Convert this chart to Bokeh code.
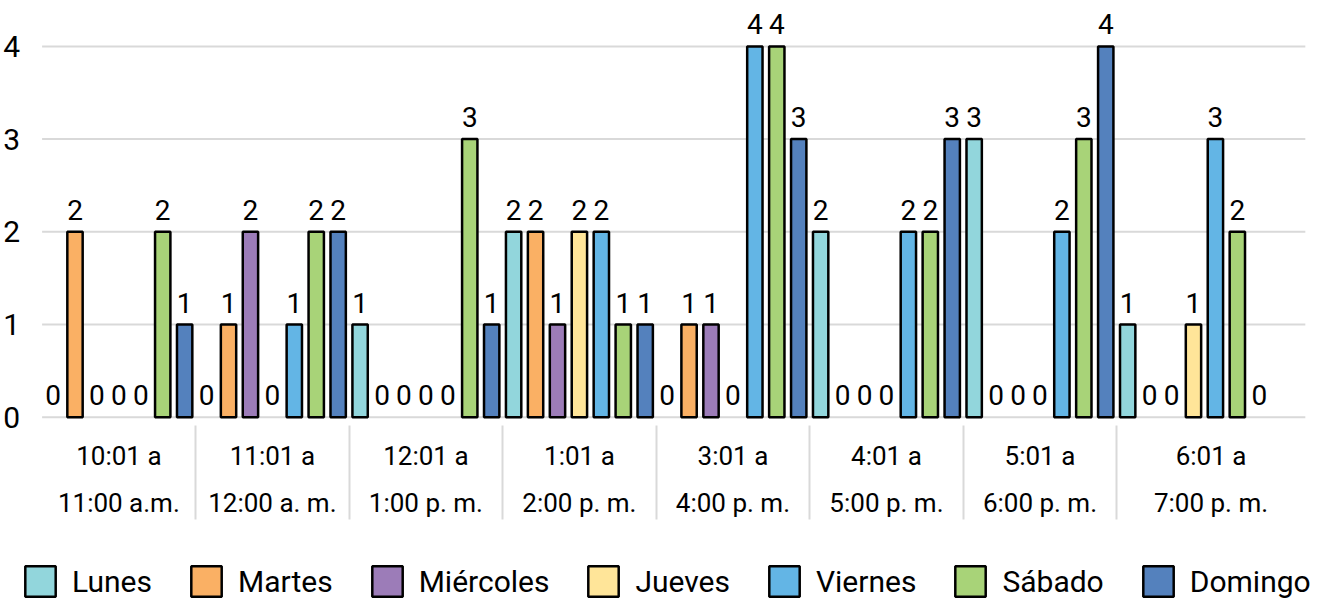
from bokeh.plotting import figure
from bokeh.models import (Range1d, LinearAxis, FixedTicker, Legend, LegendItem,
                          LabelSet, ColumnDataSource)
from bokeh.core.properties import value
from bokeh.embed import file_html
from bokeh.resources import INLINE

# ---- data ----
cat_line1 = ["10:01 a", "11:01 a", "12:01 a", "1:01 a", "3:01 a", "4:01 a", "5:01 a", "6:01 a"]
cat_line2 = ["11:00 a.m.", "12:00 a. m.", "1:00 p. m.", "2:00 p. m.",
             "4:00 p. m.", "5:00 p. m.", "6:00 p. m.", "7:00 p. m."]
days = ["Lunes", "Martes", "Miércoles", "Jueves", "Viernes", "Sábado", "Domingo"]
lunes = [0, 0, 1, 2, 0, 2, 3, 1]
martes = [2, 1, 0, 2, 1, 0, 0, 0]
miercoles = [0, 2, 0, 1, 1, 0, 0, 0]
jueves = [0, 0, 0, 2, 0, 0, 0, 1]
viernes = [0, 1, 0, 2, 4, 2, 2, 3]
sabado = [2, 2, 3, 1, 4, 2, 3, 2]
domingo = [1, 2, 1, 1, 3, 3, 4, 0]
y_ticks = [0, 1, 2, 3, 4]

# ---- style ----
series = [lunes, martes, miercoles, jueves, viernes, sabado, domingo]
colors = ["#92D6DC", "#FAB064", "#9C7CB8", "#FFE599", "#63B5E5", "#A8D378", "#5481BD"]
FONT = "Roboto"
GRID = "#D9D9D9"
n_days = len(days)
n_cats = len(cat_line1)
X_END = 57.6   # right end of the category axis (slot units)

p = figure(width=1325, height=605,
           x_range=Range1d(-1.897, 58.52), y_range=Range1d(-2.031, 4.495),
           x_axis_type=None, y_axis_type=None,
           output_backend="svg", toolbar_location=None,
           min_border_left=0, min_border_right=0,
           min_border_top=0, min_border_bottom=0)
p.outline_line_color = None
p.background_fill_color = "white"

# horizontal grid lines across the category axis
p.segment(x0=[0] * len(y_ticks), x1=[X_END] * len(y_ticks), y0=y_ticks, y1=y_ticks,
          line_color=GRID, line_width=2, level="underlay")

# y axis
yax = LinearAxis(ticker=FixedTicker(ticks=y_ticks), fixed_location=0,
                 axis_line_color=None, major_tick_line_color=None,
                 minor_tick_line_color=None, major_label_standoff=16,
                 major_label_text_font=FONT, major_label_text_font_size="30px",
                 major_label_text_color="black")
p.add_layout(yax, "left")

# category bands
lows = [n_days * c for c in range(n_cats)]
highs = [n_days * (c + 1) for c in range(n_cats - 1)] + [X_END]
centres = [(lo + hi) / 2 for lo, hi in zip(lows, highs)]
separators = lows[1:]

ax1 = LinearAxis(ticker=FixedTicker(ticks=centres, minor_ticks=separators),
                 fixed_location=0,
                 major_label_overrides={c: t for c, t in zip(centres, cat_line1)},
                 axis_line_color=None, major_tick_line_color=None,
                 major_tick_in=0, major_tick_out=0,
                 minor_tick_line_color=GRID, minor_tick_line_width=2,
                 minor_tick_in=-102, minor_tick_out=8,
                 major_label_standoff=16,
                 major_label_text_font=FONT, major_label_text_font_size="26px",
                 major_label_text_color="black")
ax2 = LinearAxis(ticker=FixedTicker(ticks=centres, minor_ticks=[]),
                 fixed_location=0,
                 major_label_overrides={c: t for c, t in zip(centres, cat_line2)},
                 axis_line_color=None, major_tick_line_color=None,
                 major_tick_in=0, major_tick_out=0,
                 minor_tick_line_color=None,
                 major_label_standoff=71,
                 major_label_text_font=FONT, major_label_text_font_size="26px",
                 major_label_text_color="black")
p.add_layout(ax1, "below")
p.add_layout(ax2, "below")

# bars
items = []
lab_x, lab_y, lab_t = [], [], []
for d, (name, vals, col) in enumerate(zip(days, series, colors)):
    xs_all = [c * n_days + d + 0.5 for c in range(n_cats)]
    xs = [x for x, v in zip(xs_all, vals) if v > 0]
    tops = [v for v in vals if v > 0]
    r = p.vbar(x=xs, top=tops, bottom=0, width=0.7,
               fill_color=col, line_color="black", line_width=2.5)
    items.append(LegendItem(label=name, renderers=[r]))
    lab_x += xs_all
    lab_y += vals
    lab_t += [str(v) for v in vals]

labels = LabelSet(x="x", y="y", text="t",
                  source=ColumnDataSource(dict(x=lab_x, y=lab_y, t=lab_t)),
                  text_align="center", text_baseline="alphabetic", y_offset=12,
                  text_font=value(FONT), text_font_size=value("28px"),
                  text_color=value("black"))
p.add_layout(labels)

legend = Legend(items=items, orientation="horizontal", location=(21, 5),
                glyph_width=38, glyph_height=38, label_standoff=13, spacing=35,
                padding=0, margin=0, border_line_color=None,
                background_fill_alpha=0,
                label_text_font=FONT, label_text_font_size="30px",
                label_text_color="black")
p.add_layout(legend)

open("out.html", "w").write(file_html(p, INLINE))
